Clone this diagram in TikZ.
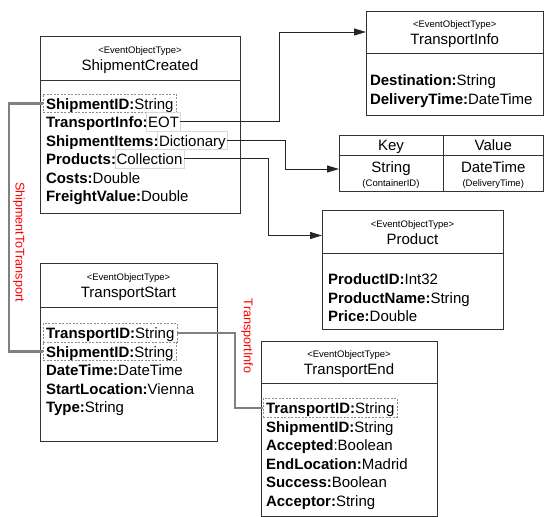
\documentclass[tikz,border=0pt]{standalone}
\usepackage{fontspec}
\setmainfont{Liberation Sans}
\usetikzlibrary{arrows.meta,positioning}
\tikzset{
  evhead/.style   = {draw=black!80, line width=1pt, outer sep=0pt, inner sep=0pt, anchor=north west},
  evbody/.style   = {evhead, anchor=north},
  stereo/.style   = {font=\fontsize{9.5}{11}\selectfont, inner sep=0pt, text height=6.8pt, text depth=0pt},
  evtitle/.style  = {font=\fontsize{15}{18}\selectfont, inner sep=0pt, text height=10.7pt, text depth=0pt},
  attr/.style     = {font=\fontsize{15}{18}\selectfont, anchor=north west, inner xsep=3pt, inner ysep=1pt,
                     text height=14pt, text depth=2.5pt, outer sep=0pt},
  keyattr/.style  = {attr, draw=black!45, line width=0.6pt, dash pattern=on 2pt off 1.5pt},
  typebox/.style  = {attr, anchor=base west, inner xsep=1.5pt, draw=black!15, line width=0.6pt},
  cell/.style     = {draw=black!80, line width=1pt, outer sep=0pt, inner sep=0pt, anchor=north west,
                     font=\fontsize{15}{18}\selectfont, text height=10.7pt, text depth=0pt},
  link/.style     = {draw=black!85, line width=1pt, ->},
  relation/.style = {draw=black!50, line width=2.5pt},
  rellabel/.style = {text=red, font=\fontsize{12.6}{14}\selectfont, rotate=-90, inner sep=0pt}
}

\begin{document}
\begin{tikzpicture}[x=1pt, y=-1pt, >={Triangle[length=12pt,width=7pt]}]
\useasboundingbox (0,0) rectangle (544,517);

% ShipmentCreated
\node[evhead, minimum width=200pt, minimum height=44pt] (sc-head) at (40,36) {};
\node[stereo] (sc-st) at ([yshift=7.5pt]sc-head.center) {<EventObjectType>};
\node[evtitle] (sc-name) at ([yshift=-7.5pt]sc-head.center) {ShipmentCreated};
\node[evbody, minimum width=200pt, minimum height=133pt, below=0pt of sc-head] (sc) {};
\node[keyattr] (sc-sid) at (43,94) {\textbf{ShipmentID:}String};
\node[attr] (sc-ti) at (sc-sid.south west) {\textbf{TransportInfo:}};
\node[typebox] (sc-ti-t) at ([xshift=-4pt]sc-ti.base east) {EOT};
\node[attr] (sc-si) at (sc-ti.south west) {\textbf{ShipmentItems:}};
\node[typebox] (sc-si-t) at ([xshift=-4pt]sc-si.base east) {Dictionary};
\node[attr] (sc-pr) at (sc-si.south west) {\textbf{Products:}};
\node[typebox] (sc-pr-t) at ([xshift=-4pt]sc-pr.base east) {Collection};
\node[attr] (sc-co) at (sc-pr.south west) {\textbf{Costs:}Double};
\node[attr] (sc-fv) at (sc-co.south west) {\textbf{FreightValue:}Double};

% TransportInfo
\node[evhead, minimum width=177.5pt, minimum height=42pt] (ti-head) at (366,11) {};
\node[stereo] (ti-st) at ([yshift=7.5pt]ti-head.center) {<EventObjectType>};
\node[evtitle] (ti-name) at ([yshift=-7.5pt]ti-head.center) {TransportInfo};
\node[evbody, minimum width=177.5pt, minimum height=62pt, below=0pt of ti-head] (ti) {};
\node[attr] (ti-de) at (367,70.5) {\textbf{Destination:}String};
\node[attr] (ti-dt) at (ti-de.south west) {\textbf{DeliveryTime:}DateTime};

% Dictionary key / value
\node[cell, minimum width=104pt, minimum height=20pt] (kv-key) at (339,135) {Key};
\node[cell, minimum width=100.5pt, minimum height=20pt, right=0pt of kv-key] (kv-val) {Value};
\node[cell, minimum width=104pt, minimum height=36pt, below=0pt of kv-key] (kv-kstr) {};
\node[cell, minimum width=100.5pt, minimum height=36pt, below=0pt of kv-val] (kv-vstr) {};
\node[evtitle] (kv-string) at ([yshift=6pt]kv-kstr.center) {String};
\node[stereo] (kv-cid) at ([yshift=-10pt]kv-kstr.center) {(ContainerID)};
\node[evtitle] (kv-datetime) at ([yshift=6pt]kv-vstr.center) {DateTime};
\node[stereo] (kv-dtime) at ([yshift=-10pt]kv-vstr.center) {(DeliveryTime)};

% Product
\node[evhead, minimum width=181pt, minimum height=43pt] (pr-head) at (322,210) {};
\node[stereo] (pr-st) at ([yshift=7.5pt]pr-head.center) {<EventObjectType>};
\node[evtitle] (pr-name) at ([yshift=-7.5pt]pr-head.center) {Product};
\node[evbody, minimum width=181pt, minimum height=76pt, below=0pt of pr-head] (pr) {};
\node[attr] (pr-id) at (325,269.5) {\textbf{ProductID:}Int32};
\node[attr] (pr-nm) at (pr-id.south west) {\textbf{ProductName:}String};
\node[attr] (pr-pc) at (pr-nm.south west) {\textbf{Price:}Double};

% TransportStart
\node[evhead, minimum width=177pt, minimum height=44pt] (ts-head) at (40,263) {};
\node[stereo] (ts-st) at ([yshift=7.5pt]ts-head.center) {<EventObjectType>};
\node[evtitle] (ts-name) at ([yshift=-7.5pt]ts-head.center) {TransportStart};
\node[evbody, minimum width=177pt, minimum height=134pt, below=0pt of ts-head] (ts) {};
\node[keyattr] (ts-tid) at (43,323.5) {\textbf{TransportID:}String};
\node[keyattr] (ts-sid) at (ts-tid.south west) {\textbf{ShipmentID:}String};
\node[attr] (ts-dt) at (ts-sid.south west) {\textbf{DateTime:}DateTime};
\node[attr] (ts-sl) at (ts-dt.south west) {\textbf{StartLocation:}Vienna};
\node[attr] (ts-ty) at (ts-sl.south west) {\textbf{Type:}String};

% TransportEnd
\node[evhead, minimum width=176pt, minimum height=42pt] (te-head) at (261,341) {};
\node[stereo] (te-st) at ([yshift=7.5pt]te-head.center) {<EventObjectType>};
\node[evtitle] (te-name) at ([yshift=-7.5pt]te-head.center) {TransportEnd};
\node[evbody, minimum width=176pt, minimum height=133pt, below=0pt of te-head] (te) {};
\node[keyattr] (te-tid) at (263,398.5) {\textbf{TransportID:}String};
\node[attr] (te-sid) at (te-tid.south west) {\textbf{ShipmentID:}String};
\node[attr] (te-ac) at (te-sid.south west) {\textbf{Accepted}:Boolean};
\node[attr] (te-el) at (te-ac.south west) {\textbf{EndLocation:}Madrid};
\node[attr] (te-su) at (te-el.south west) {\textbf{Success:}Boolean};
\node[attr] (te-ar) at (te-su.south west) {\textbf{Acceptor:}String};

% references to other types
\draw[link] (sc-ti-t.east) -- (sc-ti-t.east -| 279,0) |- (ti-head.west);
\draw[link] (sc-si-t.east) -- (sc-si-t.east -| 285,0) |- ([yshift=4pt]kv-kstr.west);
\draw[link] (sc-pr-t.east) -- (sc-pr-t.east -| 268,0) |- ([yshift=-4pt]pr-head.west);

% relations between events
\draw[relation] (sc-sid.west) -- (sc-sid.west -| 9,0) |- (ts-sid.west);
\node[rellabel] (l-s2t) at (19,242) {ShipmentToTransport};
\draw[relation] (ts-tid.east) -- (ts-tid.east -| 235,0) |- (te-tid.west);
\node[rellabel] (l-tinfo) at (247,336) {TransportInfo};

\end{tikzpicture}
\end{document}
